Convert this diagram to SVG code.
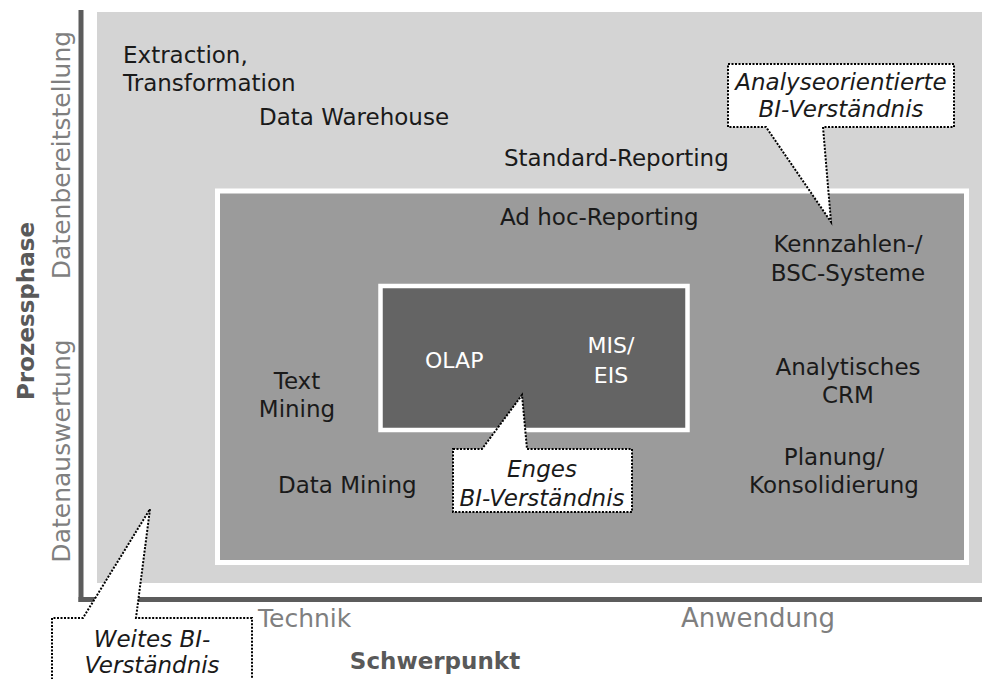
<svg xmlns="http://www.w3.org/2000/svg" width="982" height="679" viewBox="0 0 982 679">
<style>
.t{font-family:"DejaVu Sans","Liberation Sans",sans-serif;font-size:23px;fill:#1a1a1a}
.w{fill:#ffffff}
.ax{font-family:"DejaVu Sans","Liberation Sans",sans-serif;font-size:25px;fill:#7f7f7f}
.ab{font-family:"DejaVu Sans","Liberation Sans",sans-serif;font-size:23px;font-weight:bold;fill:#595959}
.it{font-family:"DejaVu Sans","Liberation Sans",sans-serif;font-size:23px;font-style:italic;fill:#1a1a1a}
.co{fill:#ffffff;stroke:#000000;stroke-width:2;stroke-dasharray:2 1.5}
.m{text-anchor:middle}
</style>
<rect width="982" height="679" fill="#ffffff"/>
<g id="weites-bereich">
<rect x="97" y="12" width="885" height="571" fill="#d4d4d4"/>
</g>
<g id="analyse-bereich">
<rect x="217.5" y="191" width="749" height="371.5" fill="#9b9b9b" stroke="#ffffff" stroke-width="5"/>
</g>
<g id="enges-bereich">
<rect x="380.5" y="286" width="307" height="144" fill="#646464" stroke="#ffffff" stroke-width="4.5"/>
</g>
<g id="axes">
<line x1="81" y1="10" x2="81" y2="602" stroke="#5c5c5c" stroke-width="5"/>
<line x1="78.5" y1="599.5" x2="982" y2="599.5" stroke="#5c5c5c" stroke-width="5"/>
<text class="ax" transform="translate(70,155) rotate(-90)" text-anchor="middle">Datenbereitstellung</text>
<text class="ax" transform="translate(70,451) rotate(-90)" text-anchor="middle">Datenauswertung</text>
<text class="ab" transform="translate(34,311) rotate(-90)" text-anchor="middle">Prozessphase</text>
<text class="ax" x="258" y="627">Technik</text>
<text class="ax" x="681" y="627" style="font-size:26px">Anwendung</text>
<text class="ab" x="435" y="669" text-anchor="middle">Schwerpunkt</text>
</g>
<g id="n-etl"><text class="t" x="123" y="63">Extraction,</text><text class="t" x="123" y="91">Transformation</text></g>
<g id="n-dwh"><text class="t" x="259" y="125">Data Warehouse</text></g>
<g id="n-std"><text class="t" x="504" y="166">Standard-Reporting</text></g>
<g id="n-adhoc"><text class="t" x="500" y="225">Ad hoc-Reporting</text></g>
<g id="n-kennzahlen"><text class="t m" x="848" y="252">Kennzahlen-/</text><text class="t m" x="848" y="281">BSC-Systeme</text></g>
<g id="n-crm"><text class="t m" x="848" y="375">Analytisches</text><text class="t m" x="848" y="403">CRM</text></g>
<g id="n-planung"><text class="t m" x="834" y="465">Planung/</text><text class="t m" x="834" y="493">Konsolidierung</text></g>
<g id="n-textmining"><text class="t m" x="297" y="389">Text</text><text class="t m" x="297" y="417">Mining</text></g>
<g id="n-datamining"><text class="t" x="278" y="493">Data Mining</text></g>
<g id="n-olap"><text class="t w" x="425" y="368" style="font-size:22px">OLAP</text></g>
<g id="n-mis"><text class="t w m" x="611" y="353" style="font-size:22px">MIS/</text><text class="t w m" x="611" y="383" style="font-size:22px">EIS</text></g>
<g id="connectors">
<g id="c-analyse">
<path class="co" d="M728,64 H954 V127 H823 L831,222 L766,127 H728 Z"/>
<text class="it m" x="841" y="90">Analyseorientierte</text>
<text class="it m" x="841" y="117">BI-Verständnis</text>
</g>
<g id="c-enges">
<path class="co" d="M453,449 H482 L522,395 L527,449 H632 V512 H453 Z"/>
<text class="it m" x="542" y="477">Enges</text>
<text class="it m" x="542" y="506">BI-Verständnis</text>
</g>
<g id="c-weites">
<path class="co" d="M52,690 V618 H83 L150,509 L136,618 H252 V690"/>
<text class="it m" x="152" y="647">Weites BI-</text>
<text class="it m" x="152" y="673">Verständnis</text>
</g>
</g>
</svg>
